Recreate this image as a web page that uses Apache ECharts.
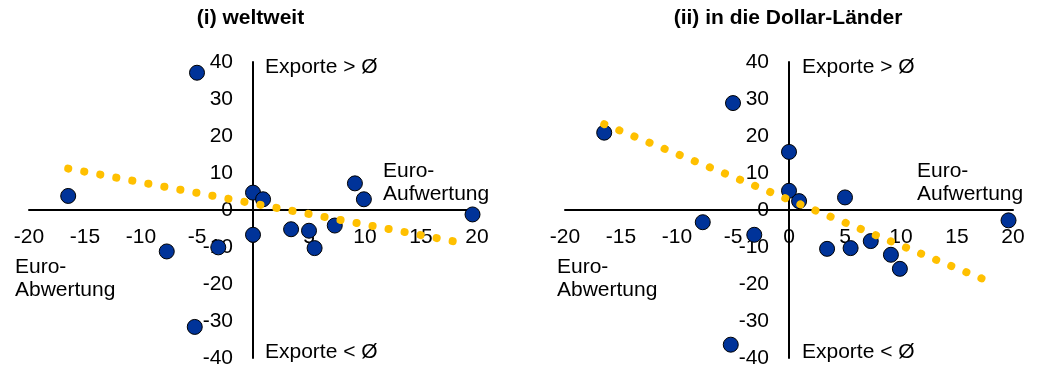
<!DOCTYPE html>
<html>
<head>
<meta charset="utf-8">
<script src="https://cdn.jsdelivr.net/npm/echarts@6/dist/echarts.min.js"></script>
<style>
  html, body { margin: 0; padding: 0; background: #fff; }
  #chart { width: 1040px; height: 369px; }
</style>
</head>
<body>
<div id="chart"></div>
<script>
// Change of the euro against each partner currency (%), shared by both panels
const euroChange = [-16.5, -7.7, -5.0, -5.2, -3.1, 0.0, 0.0, 0.9, 3.4, 5.0, 5.5, 7.3, 9.1, 9.9, 19.6];
// Export deviation from average (%): (i) worldwide
const exportsWorld = [3.8, -11.2, 37.1, -31.6, -10.1, 4.7, -6.7, 2.9, -5.2, -5.6, -10.3, -4.2, 7.2, 2.9, -1.2];
// Export deviation from average (%): (ii) to the dollar countries
const exportsDollar = [20.9, -3.3, 28.9, -36.4, -6.7, 15.7, 5.2, 2.4, -10.5, 3.4, -10.3, -8.4, -12.1, -15.9, -2.8];

// Linear trend end points for each panel
const trendWorldX = [-16.5, 19.2];
const trendWorldY = [11.2, -9.2];
const trendDollarX = [-16.5, 18.5];
const trendDollarY = [23.2, -20.1];

// Axis ranges and steps
const xRange = [-20, 20, 5];
const yRange = [-40, 40, 10];

const panelTitles = ['(i) weltweit', '(ii) in die Dollar-Länder'];
const quadrantTop = 'Exporte > Ø';
const quadrantBottom = 'Exporte < Ø';
const upLabel = ['Euro-', 'Aufwertung'];
const downLabel = ['Euro-', 'Abwertung'];

const FONT = '"Liberation Sans", Arial, sans-serif';
const FS = 21;
const pairs = (xs, ys) => xs.map((x, i) => [x, ys[i]]);

const chart = echarts.init(document.getElementById('chart'), null, { renderer: 'canvas' });

// Plot areas; the axes cross at the origin, in the middle of each area
const GRID_W = 448, GRID_H = 296;
const grids = [
  { left: 29, top: 62, width: GRID_W, height: GRID_H, containLabel: false, outerBoundsMode: 'none' },
  { left: 565, top: 62, width: GRID_W, height: GRID_H, containLabel: false, outerBoundsMode: 'none' }
];

function xAxisFor(idx) {
  return {
    type: 'value', gridIndex: idx, position: 'bottom',
    offset: -GRID_H / 2,
    min: xRange[0], max: xRange[1], interval: xRange[2],
    axisLine: { onZero: false, lineStyle: { color: '#000', width: 2 } },
    axisTick: { show: false },
    splitLine: { show: false },
    axisLabel: { margin: 17, fontSize: FS, color: '#000', fontFamily: FONT }
  };
}
function yAxisFor(idx) {
  return {
    type: 'value', gridIndex: idx, position: 'left',
    offset: -GRID_W / 2,
    min: yRange[0], max: yRange[1], interval: yRange[2],
    axisLine: { onZero: false, lineStyle: { color: '#000', width: 2 } },
    axisTick: { show: false },
    splitLine: { show: false },
    axisLabel: { margin: 20, fontSize: FS, color: '#000', fontFamily: FONT }
  };
}

function scatterSeries(idx, ys) {
  return {
    type: 'scatter', xAxisIndex: idx, yAxisIndex: idx,
    data: pairs(euroChange, ys),
    symbol: 'circle', symbolSize: 15,
    itemStyle: { color: '#003399', borderColor: '#000', borderWidth: 1, opacity: 1 },
    z: 3
  };
}
function trendSeries(idx, xs, ys) {
  return {
    type: 'line', xAxisIndex: idx, yAxisIndex: idx,
    data: pairs(xs, ys),
    showSymbol: false, symbol: 'none',
    lineStyle: { color: '#FFC000', width: 8, type: [0.1, 16.2], cap: 'round' },
    z: 5, silent: true
  };
}

function txt(x, y, text, opts) {
  return {
    type: 'text', x: x, y: y, silent: true,
    style: Object.assign({
      text: text, fill: '#000', fontSize: FS, fontFamily: FONT,
      textAlign: 'left', textVerticalAlign: 'middle'
    }, opts || {})
  };
}

const graphics = [];
[250.5, 788].forEach((cx, i) => {
  graphics.push(txt(cx, 18, panelTitles[i], { fontWeight: 'bold', fontSize: 21, textAlign: 'center' }));
});
[0, 1].forEach((i) => {
  const axisX = i === 0 ? 265 : 802;
  graphics.push(txt(axisX, 67, quadrantTop));
  graphics.push(txt(axisX, 352, quadrantBottom));
  const upX = i === 0 ? 383 : 917;
  graphics.push(txt(upX, 171, upLabel[0]));
  graphics.push(txt(upX, 194, upLabel[1]));
  const downX = i === 0 ? 15 : 557;
  graphics.push(txt(downX, 267, downLabel[0]));
  graphics.push(txt(downX, 290, downLabel[1]));
});

chart.setOption({
  animation: false,
  backgroundColor: '#fff',
  grid: grids,
  xAxis: [xAxisFor(0), xAxisFor(1)],
  yAxis: [yAxisFor(0), yAxisFor(1)],
  series: [
    scatterSeries(0, exportsWorld),
    trendSeries(0, trendWorldX, trendWorldY),
    scatterSeries(1, exportsDollar),
    trendSeries(1, trendDollarX, trendDollarY)
  ],
  graphic: graphics
});
</script>
</body>
</html>
